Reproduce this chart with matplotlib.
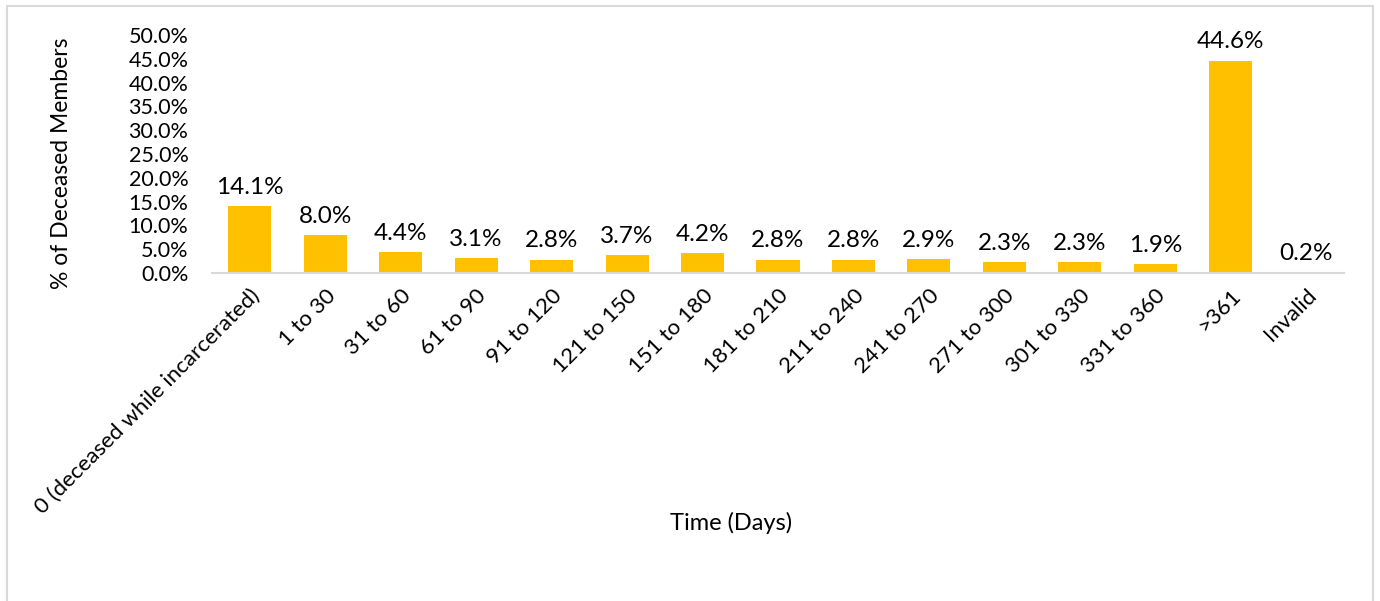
import matplotlib.pyplot as plt
import matplotlib.patches as mpatches
import numpy as np

plt.rcParams["font.family"] = ["Lato", "DejaVu Sans"]

# -----------------------------
# Data
# -----------------------------
categories = ['0 (deceased while incarcerated)', '1 to 30', '31 to 60', '61 to 90',
              '91 to 120', '121 to 150', '151 to 180', '181 to 210', '211 to 240',
              '241 to 270', '271 to 300', '301 to 330', '331 to 360', '>361', 'Invalid']
pct_deceased = [14.1, 8.0, 4.4, 3.1, 2.8, 3.7, 4.2, 2.8, 2.8, 2.9, 2.3, 2.3, 1.9, 44.6, 0.2]
y_ticks = [0, 5, 10, 15, 20, 25, 30, 35, 40, 45, 50]

bar_color = "#FFC000"
grid_gray = "#D9D9D9"

fig = plt.figure(figsize=(13.8, 6.01), dpi=100)
ax = fig.add_axes([212 / 1380, 1 - 273 / 601, (1344 - 212) / 1380, (273 - 35) / 601])

# outer chart border
fig.patches.append(mpatches.Rectangle((7 / 1380, -0.01), (1373 - 7) / 1380, 1 - 6 / 601 + 0.01,
                                      transform=fig.transFigure, fill=False,
                                      edgecolor=grid_gray, linewidth=1.5))

x = np.arange(len(categories))
bars = ax.bar(x, pct_deceased, width=0.57, color=bar_color)

for xi, v in zip(x, pct_deceased):
    ax.annotate(f"{v:.1f}%", (xi, v), xytext=(0, 6), textcoords="offset points",
                ha='center', va='bottom', fontsize=17.5)

ax.set_xlim(-0.5, len(categories) - 0.5)
ax.set_ylim(0, 50)
ax.set_yticks(y_ticks)
ax.set_yticklabels([f"{t:.1f}%" for t in y_ticks], fontsize=15.5)
ax.set_xticks(x)
ax.set_xticklabels(categories, rotation=45, ha='right', rotation_mode='anchor', fontsize=16)
ax.tick_params(axis='both', length=0)
ax.tick_params(axis='x', pad=9)
ax.tick_params(axis='y', pad=17)

for s in ['top', 'right', 'left']:
    ax.spines[s].set_visible(False)
ax.spines['bottom'].set_color(grid_gray)
ax.spines['bottom'].set_linewidth(1.5)

fig.text(62 / 1380, 1 - 163 / 601, "% of Deceased Members", rotation=90,
         ha='center', va='center', fontsize=16.5)
fig.text(731 / 1380, 1 - 523 / 601, "Time (Days)", ha='center', va='center', fontsize=17)

fig.savefig("out.png", dpi=100)
